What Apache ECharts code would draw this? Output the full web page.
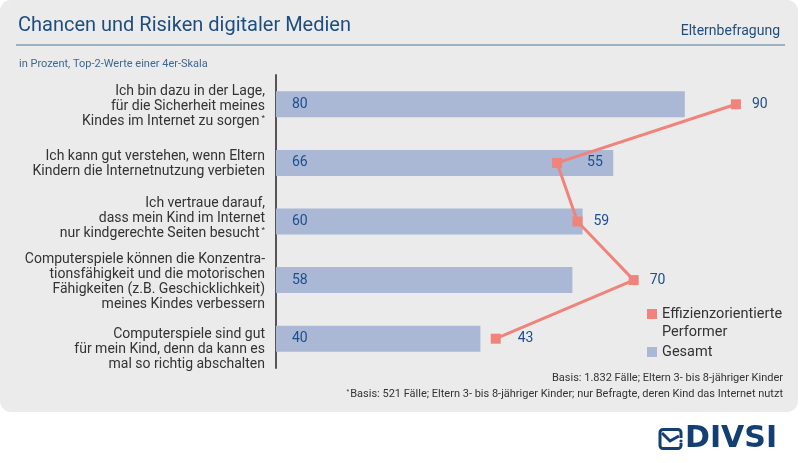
<!DOCTYPE html>
<html><head><meta charset="utf-8">
<script src="https://cdn.jsdelivr.net/npm/echarts@6/dist/echarts.min.js"></script>
<style>html,body{margin:0;padding:0;background:#fff}#c{width:800px;height:463px}</style>
</head><body><div id="c"></div>
<script>
const categories = [
  'Ich bin dazu in der Lage,\nfür die Sicherheit meines\nKindes im Internet zu sorgen*',
  'Ich kann gut verstehen, wenn Eltern\nKindern die Internetnutzung verbieten',
  'Ich vertraue darauf,\ndass mein Kind im Internet\nnur kindgerechte Seiten besucht*',
  'Computerspiele können die Konzentra-\ntionsfähigkeit und die motorischen\nFähigkeiten (z.B. Geschicklichkeit)\nmeines Kindes verbessern',
  'Computerspiele sind gut\nfür mein Kind, denn da kann es\nmal so richtig abschalten'
];
const gesamt = [80, 66, 60, 58, 40];
const performer = [90, 55, 59, 70, 43];
const seriesNames = ['Effizienzorientierte\nPerformer', 'Gesamt'];
const xTicks = [0, 100];

const FONT = 'Roboto';
const BLUE = '#1d4f8a';
const labelShift = [2, 1, -3, 2, 11];
const chart = echarts.init(document.getElementById('c'));
chart.setOption({
  animation: false,
  textStyle: { fontFamily: FONT },
  graphic: [
    { type: 'rect', z: -10, shape: { x: 0, y: 0, width: 798, height: 412, r: 11 }, style: { fill: '#ebebeb' } },
    { type: 'line', z: 1, shape: { x1: 16, y1: 45, x2: 785, y2: 45 }, style: { stroke: '#7f9db6', lineWidth: 1.5 } },
    { type: 'text', z: 5, x: 783, y: 378, style: { text: 'Basis: 1.832 Fälle; Eltern 3- bis 8-jähriger Kinder', font: '11px ' + FONT, fill: '#333', align: 'right', verticalAlign: 'middle' } },
    { type: 'text', z: 5, x: 783, y: 394, style: { text: '{s|*}Basis: 521 Fälle; Eltern 3- bis 8-jähriger Kinder; nur Befragte, deren Kind das Internet nutzt', font: '11px ' + FONT, fill: '#333', align: 'right', verticalAlign: 'middle', rich: { s: { fontSize: 7, verticalAlign: 'top', padding: [0, 1, 4, 0], fill: '#333' } } } },
    { type: 'text', z: 5, x: 685, y: 439, style: { text: 'DIVSI', font: 'bold 30px "DejaVu Sans"', fill: '#133f73', align: 'left', verticalAlign: 'middle' } },
    { type: 'rect', z: 5, shape: { x: 660, y: 429.5, width: 21, height: 19, r: 3 }, style: { fill: 'none', stroke: '#133f73', lineWidth: 3 } },
    { type: 'polyline', z: 6, shape: { points: [[662, 433], [670, 441], [679, 436]] }, style: { fill: 'none', stroke: '#133f73', lineWidth: 3 } },
    { type: 'rect', z: 6, shape: { x: 679, y: 438, width: 4, height: 5 }, style: { fill: '#ffffff' } },
    { type: 'circle', z: 7, shape: { cx: 681, cy: 441, r: 1.6 }, style: { fill: '#133f73' } }
  ],
  title: [
    { text: 'Chancen und Risiken digitaler Medien', left: 13, top: 11, textStyle: { fontFamily: FONT, fontSize: 20, fontWeight: 'normal', color: '#1f4e7e' } },
    { text: 'Elternbefragung', right: 15, top: 19, textStyle: { fontFamily: FONT, fontSize: 14, fontWeight: 'normal', color: '#1f4e7e' } },
    { text: 'in Prozent, Top-2-Werte einer 4er-Skala', left: 14, top: 54, textStyle: { fontFamily: FONT, fontSize: 11, fontWeight: 'normal', color: '#3a6a96' } }
  ],
  legend: {
    orient: 'vertical', left: 647, top: 287, padding: 0, itemGap: 2,
    itemWidth: 10, itemHeight: 10, icon: 'rect',
    data: seriesNames,
    formatter: n => n.indexOf('\n') >= 0 ? ' \n' + n : n,
    textStyle: { fontFamily: FONT, fontSize: 14.5, color: '#333', lineHeight: 18 }
  },
  grid: { left: 276, right: 13, top: 75, height: 293 },
  xAxis: { type: 'value', min: xTicks[0], max: xTicks[1], show: false },
  yAxis: {
    type: 'category', data: categories, inverse: true,
    axisLine: { show: true, lineStyle: { color: '#555', width: 2 } },
    axisTick: { show: false },
    axisLabel: {
      interval: 0, hideOverlap: false,
      margin: 11, fontFamily: FONT, fontSize: 14, lineHeight: 15, color: '#333', align: 'right',
      formatter: (v, i) => {
        let t = v.replace('*', '{s|*}');
        const s = labelShift[i] || 0;
        if (s > 0) t = '{p' + i + '| }\n' + t;
        if (s < 0) t = t + '\n{p' + i + '| }';
        return t;
      },
      rich: Object.assign({ s: { fontSize: 8, verticalAlign: 'top', padding: [0, 0, 6, 2], color: '#333' } },
        ...labelShift.map((s, i) => ({ ['p' + i]: { fontSize: 2, lineHeight: Math.max(1, Math.abs(s) * 2) } })))
    }
  },
  series: [
    {
      name: seriesNames[1], type: 'bar', data: gesamt, barWidth: 26,
      itemStyle: { color: '#aab8d5' },
      label: { show: true, position: 'insideLeft', distance: 16, color: BLUE, fontSize: 14, fontFamily: FONT },
      z: 2
    },
    {
      name: seriesNames[0], type: 'line', data: performer.map((v, i) => ({ value: v, label: { distance: i === 1 ? 25 : (i === 4 ? 17 : 11) } })),
      symbol: 'rect', symbolSize: 10, showAllSymbol: true,
      itemStyle: { color: '#f0837a' }, lineStyle: { color: '#f0837a', width: 3 },
      label: { show: true, position: 'right', color: BLUE, fontSize: 14, fontFamily: FONT },
      z: 3
    }
  ]
});
</script></body></html>
